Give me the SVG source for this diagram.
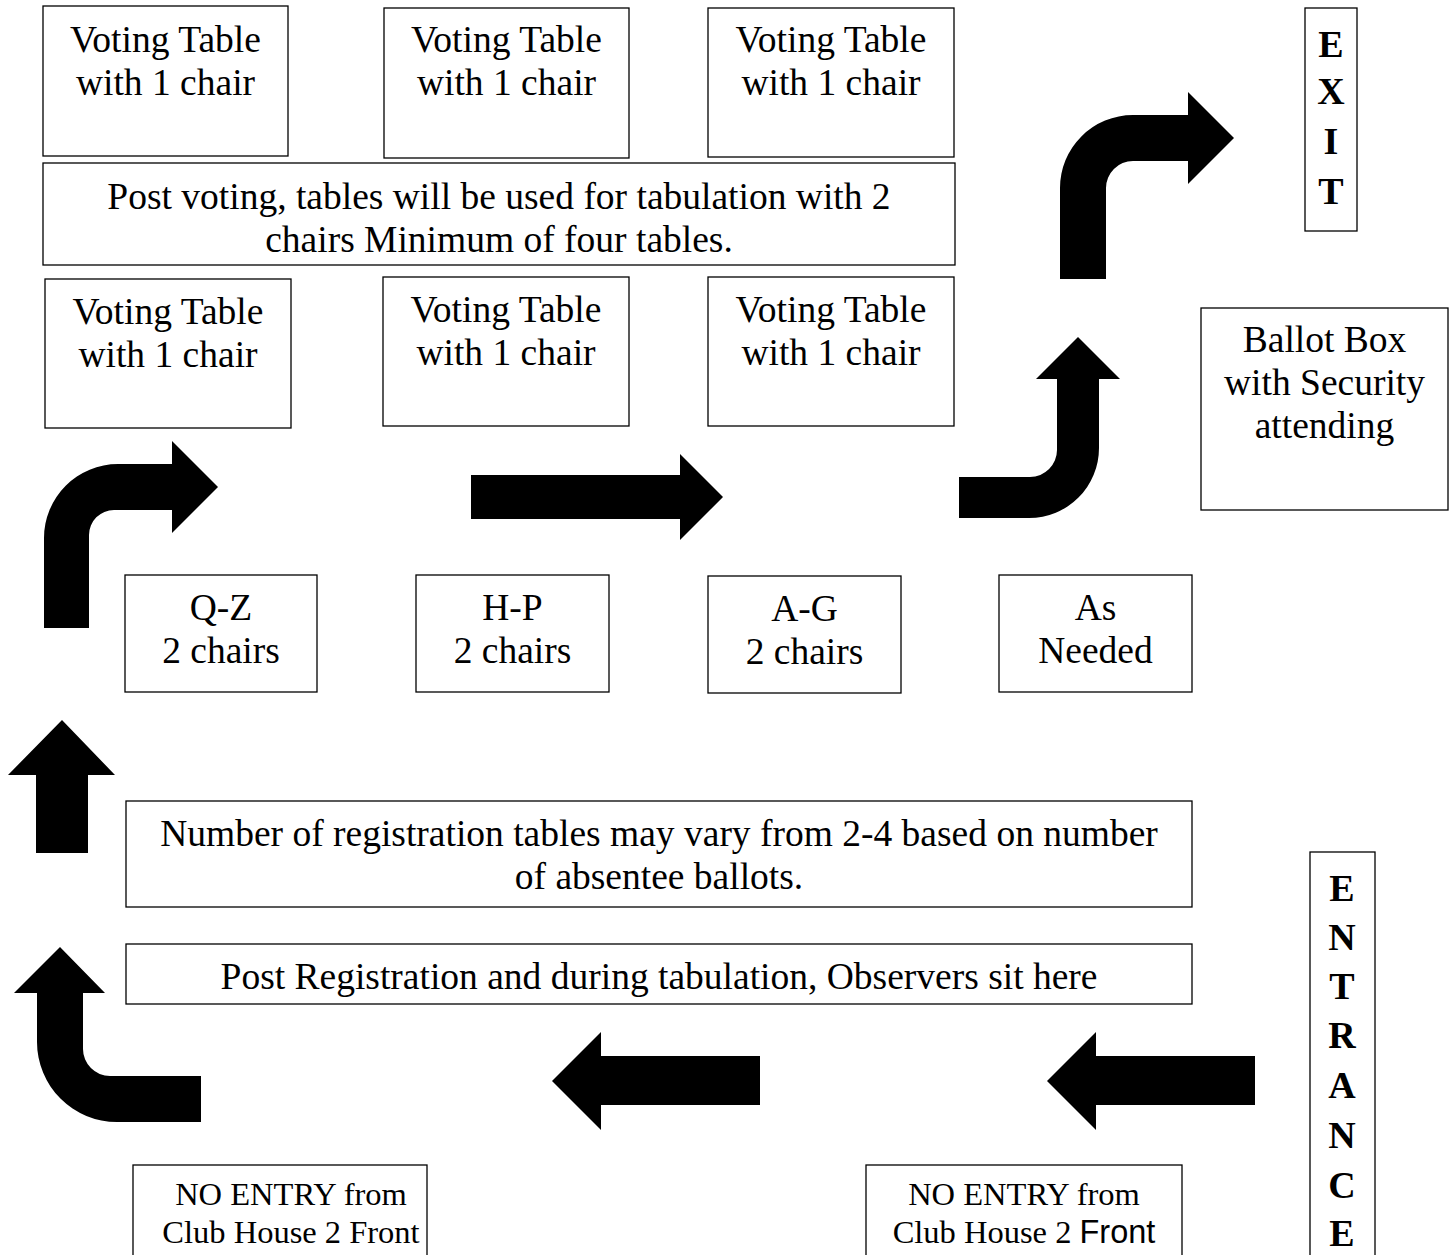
<svg xmlns="http://www.w3.org/2000/svg" width="1455" height="1255" viewBox="0 0 1455 1255">
<style>
.box{fill:#fff;stroke:#000;stroke-width:1.3}
.t{font-family:"Liberation Serif","Times New Roman",serif;font-size:37.5px;fill:#000;text-anchor:middle}
.s{font-family:"Liberation Serif","Times New Roman",serif;font-size:32.5px;fill:#000;text-anchor:middle}
.b{font-family:"Liberation Serif","Times New Roman",serif;font-size:38px;font-weight:bold;fill:#000;text-anchor:middle}
.arr{fill:#000;stroke:none}
</style>
<rect width="1455" height="1255" fill="#fff"/>
<g id="vt1"><rect class="box" x="43" y="6" width="245" height="150"/><text class="t" x="165.5" y="52">Voting Table</text><text class="t" x="165.5" y="95">with 1 chair</text></g>
<g id="vt2"><rect class="box" x="384" y="8" width="245" height="150"/><text class="t" x="506.5" y="52">Voting Table</text><text class="t" x="506.5" y="95">with 1 chair</text></g>
<g id="vt3"><rect class="box" x="708" y="8" width="246" height="149"/><text class="t" x="831" y="52">Voting Table</text><text class="t" x="831" y="95">with 1 chair</text></g>
<g id="postvoting"><rect class="box" x="43" y="163" width="912" height="102"/><text class="t" x="499" y="209">Post voting, tables will be used for tabulation with 2</text><text class="t" x="499" y="252">chairs Minimum of four tables.</text></g>
<g id="vt4"><rect class="box" x="45" y="279" width="246" height="149"/><text class="t" x="168" y="324">Voting Table</text><text class="t" x="168" y="367">with 1 chair</text></g>
<g id="vt5"><rect class="box" x="383" y="277" width="246" height="149"/><text class="t" x="506" y="322">Voting Table</text><text class="t" x="506" y="365">with 1 chair</text></g>
<g id="vt6"><rect class="box" x="708" y="277" width="246" height="149"/><text class="t" x="831" y="322">Voting Table</text><text class="t" x="831" y="365">with 1 chair</text></g>
<g id="exit"><rect class="box" x="1305" y="8" width="52" height="223"/><text class="b" x="1331" y="57">E</text><text class="b" x="1331" y="104">X</text><text class="b" x="1331" y="154">I</text><text class="b" x="1331" y="204">T</text></g>
<g id="ballot"><rect class="box" x="1201" y="308" width="247" height="202"/><text class="t" x="1324.5" y="352">Ballot Box</text><text class="t" x="1324.5" y="395">with Security</text><text class="t" x="1324.5" y="438">attending</text></g>
<g id="qz"><rect class="box" x="125" y="575" width="192" height="117"/><text class="t" x="221" y="620">Q-Z</text><text class="t" x="221" y="663">2 chairs</text></g>
<g id="hp"><rect class="box" x="416" y="575" width="193" height="117"/><text class="t" x="512.5" y="620">H-P</text><text class="t" x="512.5" y="663">2 chairs</text></g>
<g id="ag"><rect class="box" x="708" y="576" width="193" height="117"/><text class="t" x="804.5" y="621">A-G</text><text class="t" x="804.5" y="664">2 chairs</text></g>
<g id="asneeded"><rect class="box" x="999" y="575" width="193" height="117"/><text class="t" x="1095.5" y="620">As</text><text class="t" x="1095.5" y="663">Needed</text></g>
<g id="numreg"><rect class="box" x="126" y="801" width="1066" height="106"/><text class="t" x="659" y="846">Number of registration tables may vary from 2-4 based on number</text><text class="t" x="659" y="889">of absentee ballots.</text></g>
<g id="observers"><rect class="box" x="126" y="944" width="1066" height="60"/><text class="t" x="659" y="989">Post Registration and during tabulation, Observers sit here</text></g>
<g id="noentry1"><rect class="box" x="133" y="1165" width="294" height="100"/><text class="s" x="291" y="1205">NO ENTRY from</text><text class="s" x="291" y="1243">Club House 2 Front</text></g>
<g id="noentry2"><rect class="box" x="866" y="1165" width="316" height="100"/><text class="s" x="1024" y="1205">NO ENTRY from</text><text class="s" x="1024" y="1243">Club House 2 <tspan font-family="'Liberation Sans',Arial,sans-serif">Front</tspan></text></g>
<g id="entrance"><rect class="box" x="1310" y="852" width="65" height="410"/><text class="b" x="1342" y="901">E</text><text class="b" x="1342" y="950">N</text><text class="b" x="1342" y="999">T</text><text class="b" x="1342" y="1048">R</text><text class="b" x="1342" y="1098">A</text><text class="b" x="1342" y="1148">N</text><text class="b" x="1342" y="1198">C</text><text class="b" x="1342" y="1246">E</text></g>
<g id="connectors">
<path class="arr" d="M62,720 L115,775 L88,775 L88,853 L36,853 L36,775 L8,775 Z"/>
<path class="arr" d="M201,1076 L110,1076 A27 27 0 0 1 83,1049 L83,993 L105,993 L60,947 L14,993 L37,993 L37,1042 A80 80 0 0 0 117,1122 L201,1122 Z"/>
<path class="arr" d="M44,628 L44,538 A74 74 0 0 1 118,464 L172,464 L172,441 L218,487 L172,533 L172,510 L114,510 A25 25 0 0 0 89,535 L89,628 Z"/>
<path class="arr" d="M471,475 L680,475 L680,454 L723,497 L680,540 L680,519 L471,519 Z"/>
<path class="arr" d="M959,477 L1030,477 A27 27 0 0 0 1057,450 L1057,379 L1036,379 L1078,337 L1120,379 L1099,379 L1099,448 A70 70 0 0 1 1029,518 L959,518 Z"/>
<path class="arr" d="M1060,279 L1060,188 A73 73 0 0 1 1133,115 L1188,115 L1188,92 L1234,138 L1188,184 L1188,161 L1133,161 A27 27 0 0 0 1106,188 L1106,279 Z"/>
<path class="arr" d="M552,1081 L601,1032 L601,1056 L760,1056 L760,1105 L601,1105 L601,1130 Z"/>
<path class="arr" d="M1047,1081 L1096,1032 L1096,1056 L1255,1056 L1255,1105 L1096,1105 L1096,1130 Z"/>
</g>
</svg>
